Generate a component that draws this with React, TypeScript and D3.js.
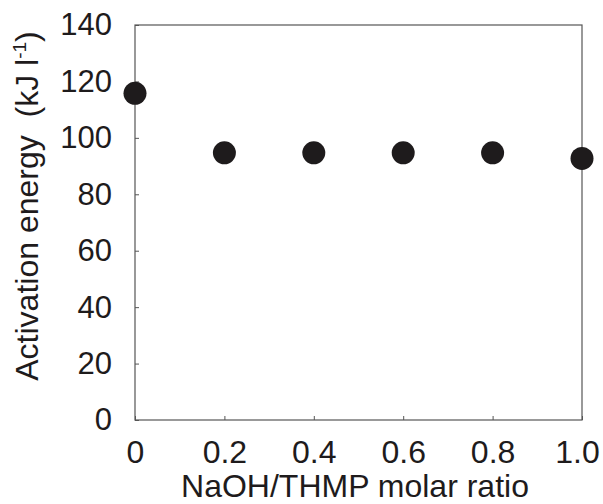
import React, { useEffect, useRef } from "react";
import * as d3 from "d3";

// data
const ratios = [0, 0.2, 0.4, 0.6, 0.8, 1.0];
const energies = [115.8, 94.7, 94.7, 94.7, 94.7, 92.7];
const xTicks = [0, 0.2, 0.4, 0.6, 0.8, 1.0];
const xTickLabels = ["0", "0.2", "0.4", "0.6", "0.8", "1.0"];
const yTicks = [0, 20, 40, 60, 80, 100, 120, 140];

export default function App() {
  const ref = useRef<SVGSVGElement | null>(null);

  useEffect(() => {
    drawChart();
  }, []);

  const drawChart = () => {
    const width = 603, height = 504;
    const margin = { top: 25, right: 21, bottom: 84, left: 135 };
    const innerW = width - margin.left - margin.right;
    const innerH = height - margin.top - margin.bottom;
    const font = "'Liberation Sans', Arial, sans-serif";
    const ink = "#1e1b1c";

    const root = d3.select(ref.current);
    root.selectAll("*").remove();

    const svg = root.append("g")
      .attr("transform", `translate(${margin.left},${margin.top})`);

    const x = d3.scaleLinear().domain([0, 1]).range([0, innerW]);
    const y = d3.scaleLinear().domain([0, 140]).range([innerH, 0]);

    // frame
    svg.append("rect")
      .attr("x", 0).attr("y", 0)
      .attr("width", innerW).attr("height", innerH)
      .attr("fill", "none")
      .attr("stroke", "#555")
      .attr("stroke-width", 1.2);

    // X axis (ticks point inward)
    const xAxis = svg.append("g")
      .attr("transform", `translate(0,${innerH})`)
      .call(d3.axisBottom(x)
        .tickValues(xTicks)
        .tickSizeInner(-4)
        .tickSizeOuter(0)
        .tickPadding(20)
        .tickFormat((d, i) => xTickLabels[i]));
    xAxis.select(".domain").remove();
    xAxis.selectAll("line").attr("stroke", "#555");
    xAxis.selectAll("text")
      .style("font-family", font)
      .style("font-size", "32px")
      .attr("fill", ink)
      // last label sits a little left so it stays on the page
      .attr("dx", (d, i) => (i === xTicks.length - 1 ? -5 : 0));

    // Y axis
    const yAxis = svg.append("g")
      .call(d3.axisLeft(y)
        .tickValues(yTicks)
        .tickSizeInner(-4)
        .tickSizeOuter(0)
        .tickPadding(23));
    yAxis.select(".domain").remove();
    yAxis.selectAll("line").attr("stroke", "#555");
    yAxis.selectAll("text")
      .style("font-family", font)
      .style("font-size", "31px")
      .attr("fill", ink);

    // points
    svg.selectAll("circle.pt")
      .data(ratios)
      .enter()
      .append("circle")
      .attr("class", "pt")
      .attr("cx", d => x(d))
      .attr("cy", (d, i) => y(energies[i]))
      .attr("r", 11.5)
      .attr("fill", ink);

    // x title
    root.append("text")
      .attr("x", 355)
      .attr("y", 497)
      .attr("text-anchor", "middle")
      .style("font-family", font)
      .style("font-size", "32px")
      .attr("fill", ink)
      .text("NaOH/THMP molar ratio");

    // y title
    const yt = root.append("text")
      .attr("transform", "translate(38,206) rotate(-90)")
      .attr("text-anchor", "middle")
      .style("font-family", font)
      .style("font-size", "32px")
      .attr("fill", ink);
    yt.append("tspan").text("Activation energy\u00a0\u00a0(kJ l");
    yt.append("tspan").attr("dy", -12).style("font-size", "19px").text("-1");
    yt.append("tspan").attr("dy", 12).text(")");
  };

  return (
    <svg
      ref={ref}
      width={603}
      height={504}
      style={{ position: "absolute", left: 0, top: 0, background: "#fff" }}
    />
  );
}
